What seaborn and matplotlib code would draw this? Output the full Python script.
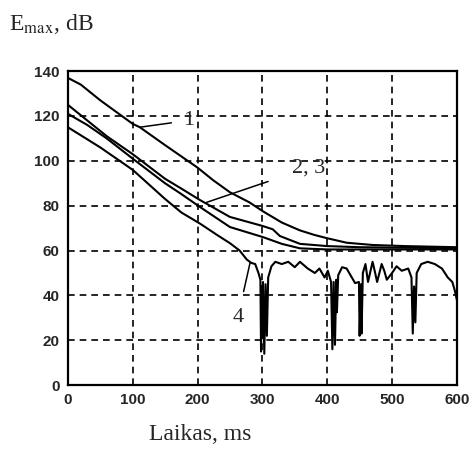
import matplotlib
matplotlib.use("Agg")
import matplotlib.pyplot as plt
import pandas as pd
import seaborn as sns

# curve 1 (top)
t1 = [0, 20, 50, 100, 111, 150, 200, 224, 250, 280, 301, 330, 358, 380, 400,
      430, 470, 520, 600]
e1 = [137, 134, 127, 116.5, 115, 107, 97, 91.4, 86, 81.5, 77.5, 72.5, 69, 67, 65.5,
      63.5, 62.5, 62, 61.5]

# curves 2 and 3 (close pair)
t2 = [0, 30, 60, 100, 150, 173, 204, 250, 300, 316, 327, 358, 400, 450, 600]
e2 = [125, 118, 111, 103, 92, 88, 82.5, 75, 71, 69.5, 66.5, 63, 62, 61.5, 61]
t3 = [0, 30, 60, 100, 150, 173, 204, 250, 301, 330, 358, 400, 600]
e3 = [121, 116, 110, 101, 90, 85.6, 79.4, 70.5, 66, 63, 61, 60.5, 60.5]

# curve 4 (noisy, with deep notches)
t4 = [0, 50, 100, 150, 175, 204, 230, 250, 265, 276, 283, 289, 294, 297, 298,
      299, 300, 301, 303, 305, 307, 309, 314, 320, 330, 340, 350, 358, 370, 381,
      388, 396, 401, 406, 408, 410, 412, 414, 415, 417, 423, 430, 438, 443, 449,
      450, 452, 453, 455, 459, 463, 470, 474, 477, 484, 488, 492, 500, 507, 515,
      525, 530, 532, 534, 536, 538, 545, 555, 566, 577, 586, 593, 597, 600]
e4 = [115, 106, 96, 83, 77, 72, 67, 63.3, 60, 56, 54.5, 54, 50, 47, 15,
      44, 21, 46, 14, 45, 22, 48, 53, 55, 54, 55, 52.6, 55, 52, 50,
      52, 48, 51, 46, 16, 46, 18, 47, 32.5, 49, 52.6, 52, 48, 45.5, 46,
      22, 45, 23, 50, 54, 46, 55, 50, 46, 54, 51, 47, 50, 53, 51,
      52, 48, 23, 44, 28, 50, 54, 55, 54, 52, 48, 46, 42, 38]

x_ticks = [0, 100, 200, 300, 400, 500, 600]
y_ticks = [0, 20, 40, 60, 80, 100, 120, 140]

sns.set_style("white")
plt.rcParams["font.family"] = ["Liberation Sans", "DejaVu Sans"]
plt.rcParams["mathtext.fontset"] = "stix"

fig = plt.figure(figsize=(4.71, 4.68), dpi=100)
ax = fig.add_axes([0.144, 0.177, 0.826, 0.671])

curves = [(t1, e1), (t2, e2), (t3, e3), (t4, e4)]
for t, e in curves:
    df = pd.DataFrame({"t": t, "e": e})
    sns.lineplot(data=df, x="t", y="e", ax=ax, color="black", lw=1.5,
                 estimator=None, sort=False)

ax.set_xlim(0, 600)
ax.set_ylim(0, 140)
ax.set_xticks(x_ticks)
ax.set_yticks(y_ticks)
ax.set_xlabel("")
ax.set_ylabel("")
ax.grid(True, color="black", ls=(0, (4, 3)), lw=1.2)
for s in ax.spines.values():
    s.set_color("black")
    s.set_linewidth(1.6)
ax.tick_params(length=0, pad=6, labelsize=11)
for lab in ax.get_xticklabels() + ax.get_yticklabels():
    lab.set_fontweight("bold")

serif = ["Liberation Serif", "DejaVu Serif"]
# annotations
ax.annotate("1", xy=(111, 115), xytext=(186, 118), fontsize=16, family=serif,
            va="center", ha="center",
            arrowprops=dict(arrowstyle="-", color="black", lw=1.1, shrinkA=6, shrinkB=0))
ax.annotate("2, 3", xy=(214, 81.5), xytext=(372, 97), fontsize=16, family=serif,
            va="center", ha="center",
            arrowprops=dict(arrowstyle="-", color="black", lw=1.1, shrinkA=16, shrinkB=0))
ax.annotate("4", xy=(281, 54.5), xytext=(262, 30), fontsize=16, family=serif,
            va="center", ha="center",
            arrowprops=dict(arrowstyle="-", color="black", lw=1.1, shrinkA=10, shrinkB=0))

fig.text(0.02, 0.936, r"E$_{\mathrm{max}}$, dB", fontsize=17, family=serif, va="baseline")
fig.text(0.425, 0.06, "Laikas, ms", fontsize=17, family=serif, va="baseline", ha="center")

fig.savefig("out.png", dpi=100)
